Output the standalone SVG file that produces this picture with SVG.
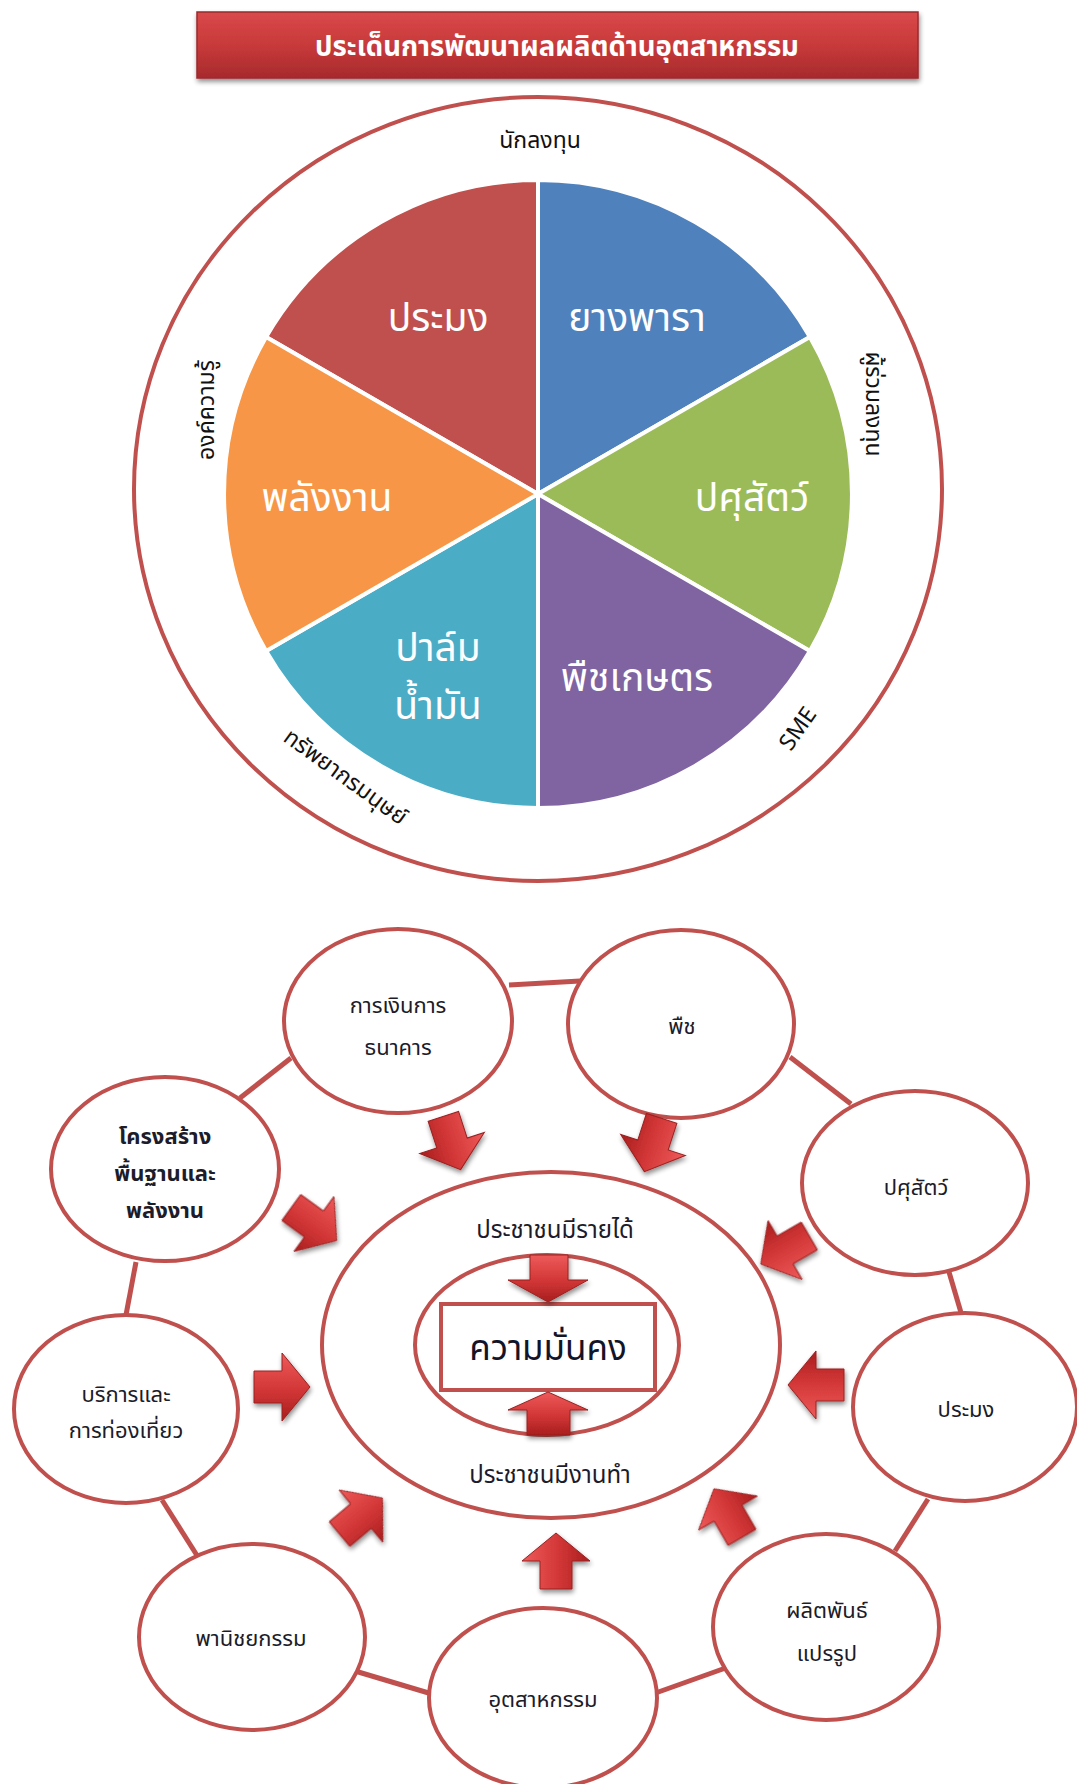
<svg xmlns="http://www.w3.org/2000/svg" xmlns:xlink="http://www.w3.org/1999/xlink" width="1077" height="1784" viewBox="0 0 1077 1784">
<style>
.th{font-family:"Noto Sans Thai","Noto Sans","DejaVu Sans",sans-serif;}
.title{fill:#ffffff;font-size:27.5px;font-weight:bold;}
.slice{stroke:#ffffff;stroke-width:4;}
.slab{fill:#ffffff;font-size:39px;}
.olab{fill:#111111;font-size:23px;}
.ring{fill:none;stroke:#c0504d;stroke-width:4;}
.sat{fill:#ffffff;stroke:#c0504d;stroke-width:4;}
.con{stroke:#c0504d;stroke-width:5;stroke-linecap:butt;}
.stxt{fill:#1c1c2a;font-size:22px;}
.ctxt{fill:#1c1c2a;font-size:24px;}
.big{fill:#141428;font-size:35px;}
.arr{fill:url(#ag);stroke:#9a2020;stroke-width:1;}
</style>
<defs>
<linearGradient id="tg" x1="0" y1="0" x2="0" y2="1">
<stop offset="0" stop-color="#d9494a"/>
<stop offset="0.5" stop-color="#c83a3b"/>
<stop offset="1" stop-color="#a72a2c"/>
</linearGradient>
<linearGradient id="ag" x1="0" y1="0" x2="0" y2="1">
<stop offset="0" stop-color="#ee5a5a"/>
<stop offset="0.55" stop-color="#d23636"/>
<stop offset="1" stop-color="#a81e1e"/>
</linearGradient>
<filter id="sh" x="-10%" y="-20%" width="120%" height="160%">
<feGaussianBlur in="SourceAlpha" stdDeviation="2.5"/>
<feOffset dx="1" dy="3" result="b"/>
<feComponentTransfer><feFuncA type="linear" slope="0.45"/></feComponentTransfer>
<feMerge><feMergeNode/><feMergeNode in="SourceGraphic"/></feMerge>
</filter>
<path id="arrow" d="M-28,-16 L0,-16 L0,-34 L28,0 L0,34 L0,16 L-28,16 Z"/>
</defs>
<rect width="1077" height="1784" fill="#ffffff"/>

<!-- Title -->
<g id="title">
<rect x="197" y="12" width="721" height="66" fill="url(#tg)" stroke="#9c2a2b" stroke-width="1.5" filter="url(#sh)"/>
<text class="th title" x="557" y="56" text-anchor="middle">ประเด็นการพัฒนาผลผลิตด้านอุตสาหกรรม</text>
</g>

<!-- Top wheel -->
<g id="outer-ring">
<ellipse class="ring" cx="538" cy="489" rx="404" ry="392"/>
</g>
<g id="label-investor"><text class="th olab" x="540" y="148" text-anchor="middle">นักลงทุน</text></g>
<g id="label-knowledge"><text class="th olab" transform="translate(214,410) rotate(-90)" text-anchor="middle">องค์ความรู้</text></g>
<g id="label-coinvestor"><text class="th olab" transform="translate(866,404) rotate(90)" text-anchor="middle">ผู้ร่วมลงทุน</text></g>
<g id="label-sme"><text class="th olab" transform="translate(804,733) rotate(-55)" text-anchor="middle">SME</text></g>
<g id="label-hr"><text class="th olab" transform="translate(341,783) rotate(36)" text-anchor="middle">ทรัพยากรมนุษย์</text></g>

<g id="slice-fishery">
<path class="slice" fill="#c0504d" d="M538,494 L266.1,337 A314,314 0 0 1 538,180 Z"/>
<text class="th slab" x="438" y="331" text-anchor="middle">ประมง</text>
</g>
<g id="slice-rubber">
<path class="slice" fill="#4f81bd" d="M538,494 L538,180 A314,314 0 0 1 809.9,337 Z"/>
<text class="th slab" x="637" y="331" text-anchor="middle">ยางพารา</text>
</g>
<g id="slice-livestock">
<path class="slice" fill="#9bbb59" d="M538,494 L809.9,337 A314,314 0 0 1 809.9,651 Z"/>
<text class="th slab" x="752" y="511" text-anchor="middle">ปศุสัตว์</text>
</g>
<g id="slice-crops">
<path class="slice" fill="#8064a2" d="M538,494 L809.9,651 A314,314 0 0 1 538,808 Z"/>
<text class="th slab" x="637" y="691" text-anchor="middle">พืชเกษตร</text>
</g>
<g id="slice-palm">
<path class="slice" fill="#4bacc6" d="M538,494 L538,808 A314,314 0 0 1 266.1,651 Z"/>
<text class="th slab" x="438" y="661" text-anchor="middle">ปาล์ม</text>
<text class="th slab" x="438" y="719" text-anchor="middle">น้ำมัน</text>
</g>
<g id="slice-energy">
<path class="slice" fill="#f79646" d="M538,494 L266.1,651 A314,314 0 0 1 266.1,337 Z"/>
<text class="th slab" x="327" y="511" text-anchor="middle">พลังงาน</text>
</g>

<!-- Bottom: connectors -->
<g id="connectors">
<line class="con" x1="240" y1="1098" x2="291" y2="1058"/>
<line class="con" x1="509" y1="985" x2="580" y2="981"/>
<line class="con" x1="790" y1="1057" x2="851" y2="1104"/>
<line class="con" x1="949" y1="1272" x2="962" y2="1316"/>
<line class="con" x1="928" y1="1499" x2="895" y2="1551"/>
<line class="con" x1="734" y1="1665" x2="650" y2="1695"/>
<line class="con" x1="432" y1="1694" x2="355" y2="1671"/>
<line class="con" x1="198" y1="1557" x2="162" y2="1500"/>
<line class="con" x1="126" y1="1315" x2="136" y2="1262"/>
</g>

<g id="node-finance">
<ellipse class="sat" cx="398" cy="1021" rx="114" ry="92"/>
<text class="th stxt" x="398" y="1013" text-anchor="middle">การเงินการ</text>
<text class="th stxt" x="398" y="1055" text-anchor="middle">ธนาคาร</text>
</g>
<g id="node-plants">
<ellipse class="sat" cx="681" cy="1024" rx="113" ry="94"/>
<text class="th stxt" x="682" y="1034" text-anchor="middle">พืช</text>
</g>
<g id="node-livestock">
<ellipse class="sat" cx="915" cy="1183" rx="113" ry="92"/>
<text class="th stxt" x="916" y="1195" text-anchor="middle">ปศุสัตว์</text>
</g>
<g id="node-fishery">
<ellipse class="sat" cx="965" cy="1407" rx="112" ry="94"/>
<text class="th stxt" x="966" y="1417" text-anchor="middle">ประมง</text>
</g>
<g id="node-processed">
<ellipse class="sat" cx="826" cy="1627" rx="113" ry="93"/>
<text class="th stxt" x="827" y="1618" text-anchor="middle">ผลิตพันธ์</text>
<text class="th stxt" x="827" y="1661" text-anchor="middle">แปรรูป</text>
</g>
<g id="node-industry">
<ellipse class="sat" cx="543" cy="1698" rx="114" ry="90"/>
<text class="th stxt" x="543" y="1707" text-anchor="middle">อุตสาหกรรม</text>
</g>
<g id="node-commerce">
<ellipse class="sat" cx="252" cy="1637" rx="113" ry="93"/>
<text class="th stxt" x="251" y="1646" text-anchor="middle">พานิชยกรรม</text>
</g>
<g id="node-tourism">
<ellipse class="sat" cx="126" cy="1409" rx="112" ry="94"/>
<text class="th stxt" x="126" y="1402" text-anchor="middle">บริการและ</text>
<text class="th stxt" x="126" y="1438" text-anchor="middle">การท่องเที่ยว</text>
</g>
<g id="node-infra">
<ellipse class="sat" cx="165" cy="1169" rx="114" ry="92"/>
<text class="th stxt" x="165" y="1144" text-anchor="middle" font-weight="bold">โครงสร้าง</text>
<text class="th stxt" x="165" y="1181" text-anchor="middle" font-weight="bold">พื้นฐานและ</text>
<text class="th stxt" x="165" y="1218" text-anchor="middle" font-weight="bold">พลังงาน</text>
</g>

<!-- Center -->
<g id="node-center-outer">
<ellipse class="ring" cx="551" cy="1345" rx="229" ry="173"/>
<text class="th ctxt" x="555" y="1238" text-anchor="middle">ประชาชนมีรายได้</text>
<text class="th ctxt" x="550" y="1483" text-anchor="middle">ประชาชนมีงานทำ</text>
</g>
<g id="node-center-inner">
<ellipse class="ring" cx="547" cy="1345" rx="132" ry="90"/>
</g>
<g id="node-security">
<rect x="441" y="1304" width="214" height="86" fill="#ffffff" stroke="#c0504d" stroke-width="4"/>
<text class="th big" x="548" y="1360" text-anchor="middle">ความมั่นคง</text>
</g>

<!-- Arrows -->
<g id="arrows" filter="url(#sh)">
<use href="#arrow" class="arr" transform="translate(452,1143) rotate(72)"/>
<use href="#arrow" class="arr" transform="translate(653,1145) rotate(108)"/>
<use href="#arrow" class="arr" transform="translate(314,1224) rotate(36)"/>
<use href="#arrow" class="arr" transform="translate(785,1250) rotate(150)"/>
<use href="#arrow" class="arr" transform="translate(282,1387) rotate(0)"/>
<use href="#arrow" class="arr" transform="translate(816,1385) rotate(180)"/>
<use href="#arrow" class="arr" transform="translate(361,1516) rotate(-40)"/>
<use href="#arrow" class="arr" transform="translate(728,1513) rotate(-120)"/>
<use href="#arrow" class="arr" transform="translate(556,1561) rotate(-90)"/>
<path class="arr" d="M530,1255 L568,1255 L568,1280 L588,1280 L548,1302 L508,1280 L530,1280 Z"/>
<path class="arr" d="M527,1435 L570,1435 L570,1410 L588,1410 L548,1392 L508,1410 L527,1410 Z"/>
</g>
</svg>
